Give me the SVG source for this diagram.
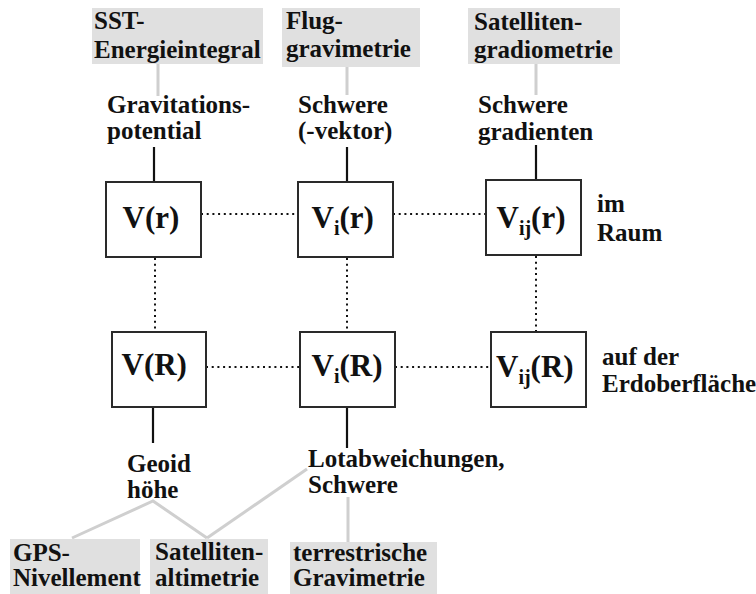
<svg xmlns="http://www.w3.org/2000/svg" width="756" height="594" viewBox="0 0 756 594">
<style>
text{font-family:"Liberation Serif","Times New Roman",serif;font-weight:bold;fill:#111}
.t{font-size:25px}
.n{font-size:31px}
.s{font-size:20px}
.gb{fill:#e0e0e0}
.box{fill:#fff;stroke:#2a2a2a;stroke-width:2}
.gl{stroke:#cfcfcf;stroke-width:3;fill:none}
.bl{stroke:#111;stroke-width:2.2;fill:none}
.dl{stroke:#111;stroke-width:2;stroke-dasharray:2 3.7;fill:none}
</style>
<rect width="756" height="594" fill="#fff"/>
<g id="connectors">
<line class="gl" x1="158" y1="64" x2="158" y2="96"/>
<line class="gl" x1="347" y1="67" x2="347" y2="95"/>
<line class="gl" x1="536" y1="64" x2="536" y2="95"/>
<line class="bl" x1="154" y1="147" x2="154" y2="182"/>
<line class="bl" x1="347" y1="147" x2="347" y2="182"/>
<line class="bl" x1="536" y1="145" x2="536" y2="180"/>
<line class="dl" x1="201" y1="214" x2="298" y2="214"/>
<line class="dl" x1="393" y1="214" x2="486" y2="214"/>
<line class="dl" x1="206" y1="367" x2="300" y2="367"/>
<line class="dl" x1="395" y1="367" x2="491" y2="367"/>
<line class="dl" x1="155" y1="258" x2="155" y2="332"/>
<line class="dl" x1="347" y1="258" x2="347" y2="332"/>
<line class="dl" x1="536" y1="256" x2="536" y2="332"/>
<line class="bl" x1="153" y1="407" x2="153" y2="443"/>
<line class="bl" x1="347" y1="403" x2="347" y2="448"/>
<polyline class="gl" points="72,538 153,501 207,538"/>
<line class="gl" x1="307" y1="469" x2="207" y2="538"/>
<line class="gl" x1="348" y1="497" x2="348" y2="542"/>
</g>
<g id="sst">
<rect class="gb" x="92" y="8" width="171" height="56"/>
<text class="t" x="94" y="29">SST-</text>
<text class="t" x="94" y="58">Energieintegral</text>
</g>
<g id="flug">
<rect class="gb" x="282" y="8" width="138" height="59"/>
<text class="t" x="286" y="29">Flug-</text>
<text class="t" x="286" y="57">gravimetrie</text>
</g>
<g id="satgrad">
<rect class="gb" x="468" y="8" width="152" height="56"/>
<text class="t" x="474" y="30">Satelliten-</text>
<text class="t" x="474" y="58">gradiometrie</text>
</g>
<g id="gravpot">
<text class="t" x="107" y="113">Gravitations-</text>
<text class="t" x="107" y="139">potential</text>
</g>
<g id="schwere">
<text class="t" x="298" y="113">Schwere</text>
<text class="t" x="298" y="139">(-vektor)</text>
</g>
<g id="schweregrad">
<text class="t" x="478" y="113">Schwere</text>
<text class="t" x="478" y="140">gradienten</text>
</g>
<g id="Vr">
<rect class="box" x="106" y="182" width="95" height="75"/>
<text class="n" x="122.5" y="228">V(r)</text>
</g>
<g id="Vir">
<rect class="box" x="298" y="182" width="95" height="75"/>
<text class="n" x="311.5" y="228">V<tspan class="s" dy="7">i</tspan><tspan dy="-7">(r)</tspan></text>
</g>
<g id="Vijr">
<rect class="box" x="486" y="180" width="95" height="75"/>
<text class="n" x="496.5" y="228">V<tspan class="s" dy="7">ij</tspan><tspan dy="-7">(r)</tspan></text>
</g>
<g id="imRaum">
<text class="t" x="597" y="212">im</text>
<text class="t" x="597" y="241">Raum</text>
</g>
<g id="VR">
<rect class="box" x="112" y="332" width="94" height="75"/>
<text class="n" x="121.5" y="375">V(R)</text>
</g>
<g id="ViR">
<rect class="box" x="300" y="332" width="95" height="75"/>
<text class="n" x="311.5" y="376">V<tspan class="s" dy="7">i</tspan><tspan dy="-7">(R)</tspan></text>
</g>
<g id="VijR">
<rect class="box" x="491" y="332" width="95" height="75"/>
<text class="n" x="496" y="377">V<tspan class="s" dy="7">ij</tspan><tspan dy="-7">(R)</tspan></text>
</g>
<g id="erdoberflaeche">
<text class="t" x="602" y="365">auf der</text>
<text class="t" x="602" y="392">Erdoberfläche</text>
</g>
<g id="geoid">
<text class="t" x="127" y="472">Geoid</text>
<text class="t" x="127" y="498">höhe</text>
</g>
<g id="lotab">
<text class="t" x="308" y="467">Lotabweichungen,</text>
<text class="t" x="308" y="493">Schwere</text>
</g>
<g id="gps">
<rect class="gb" x="10" y="539" width="130" height="55"/>
<text class="t" x="13" y="561">GPS-</text>
<text class="t" x="13" y="586">Nivellement</text>
</g>
<g id="satalt">
<rect class="gb" x="150" y="539" width="118" height="55"/>
<text class="t" x="155" y="560">Satelliten-</text>
<text class="t" x="155" y="586">altimetrie</text>
</g>
<g id="terr">
<rect class="gb" x="290" y="542" width="147" height="52"/>
<text class="t" x="293" y="561">terrestrische</text>
<text class="t" x="293" y="586">Gravimetrie</text>
</g>
</svg>
